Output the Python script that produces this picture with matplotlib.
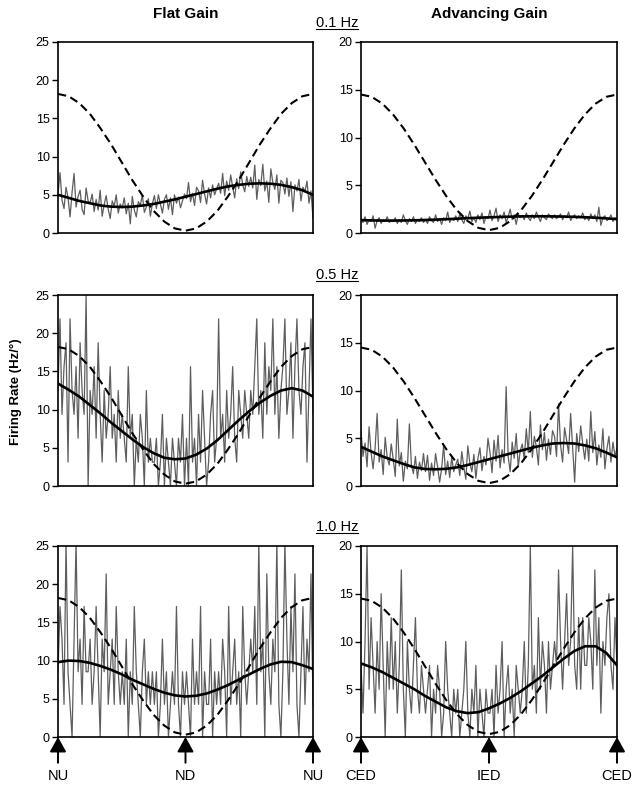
import numpy as np
import matplotlib
matplotlib.use("Agg")
import matplotlib.pyplot as plt
from matplotlib.lines import Line2D

plt.rcParams['font.family'] = ['Liberation Sans', 'DejaVu Sans']

# ---------------- data ----------------
col_titles = ["Flat Gain", "Advancing Gain"]
row_titles = ["0.1 Hz", "0.5 Hz", "1.0 Hz"]
ylims = [25, 20]
flat_marks = ["NU", "ND", "NU"]
adv_marks = ["CED", "IED", "CED"]

# stimulus (dashed), 25 samples over one cycle
stim_flat = [18.2, 17.9, 17.0, 15.6, 13.7, 11.6, 9.25, 6.9, 4.8, 2.9, 1.5, 0.6, 0.3,
             0.6, 1.5, 2.9, 4.8, 6.9, 9.25, 11.6, 13.7, 15.6, 17.0, 17.9, 18.2]
stim_adv = [14.5, 14.26, 13.55, 12.42, 10.95, 9.24, 7.4, 5.56, 3.85, 2.38, 1.25, 0.54, 0.3,
            0.54, 1.25, 2.38, 3.85, 5.56, 7.4, 9.24, 10.95, 12.42, 13.55, 14.26, 14.5]

# fitted curves (solid), 25 samples
fit_flat_01 = [5.0, 4.6, 4.2, 3.9, 3.6, 3.45, 3.4, 3.45, 3.6, 3.8, 4.1, 4.4, 4.75,
               5.1, 5.45, 5.8, 6.1, 6.3, 6.45, 6.5, 6.45, 6.3, 6.0, 5.6, 5.0]
fit_adv_01 = [1.35, 1.32, 1.3, 1.3, 1.31, 1.33, 1.36, 1.4, 1.45, 1.5, 1.55, 1.6, 1.64,
              1.68, 1.71, 1.74, 1.75, 1.75, 1.74, 1.72, 1.69, 1.65, 1.6, 1.53, 1.45]
fit_flat_05 = [13.4, 12.6, 11.7, 10.6, 9.5, 8.3, 7.2, 6.1, 5.1, 4.3, 3.7, 3.5, 3.6,
               4.1, 4.9, 6.0, 7.3, 8.6, 9.8, 10.9, 11.8, 12.5, 12.8, 12.5, 11.7]
fit_adv_05 = [4.1, 3.6, 3.1, 2.7, 2.3, 1.95, 1.78, 1.75, 1.8, 1.95, 2.2, 2.5, 2.8,
              3.1, 3.4, 3.7, 4.0, 4.25, 4.45, 4.5, 4.45, 4.25, 3.95, 3.5, 3.0]
fit_flat_10 = [9.8, 10.0, 9.95, 9.7, 9.3, 8.8, 8.2, 7.5, 6.9, 6.3, 5.8, 5.45, 5.3,
               5.4, 5.7, 6.2, 6.8, 7.5, 8.2, 8.9, 9.5, 9.85, 9.8, 9.4, 8.9]
fit_adv_10 = [7.7, 7.3, 6.8, 6.2, 5.6, 5.0, 4.3, 3.7, 3.1, 2.7, 2.5, 2.6, 3.0,
              3.5, 4.1, 4.8, 5.6, 6.4, 7.3, 8.2, 9.0, 9.5, 9.5, 8.8, 7.5]

# firing rate traces (gray), 128 bins each
rate_flat_01 = [5.1, 7.9, 4.3, 3.2, 6.0, 4.6, 2.1, 5.3, 7.8, 3.4, 4.8, 5.6, 3.1, 2.4, 5.9, 4.2,
                3.9, 5.1, 2.8, 4.4, 3.0, 5.6, 2.2, 3.7, 4.9, 3.1, 1.9, 4.2, 3.5, 5.0, 2.6, 3.8,
                3.3, 4.6, 2.5, 3.9, 1.2, 4.8, 3.0, 2.1, 4.1, 3.6, 5.0, 2.7, 3.4, 4.5, 2.2, 3.8,
                4.9, 3.2, 5.0, 3.8, 2.6, 4.4, 5.0, 3.1, 4.6, 2.4, 5.0, 3.9, 4.7, 3.3, 4.2, 5.1,
                4.5, 6.6, 4.1, 5.2, 3.6, 6.0, 5.5, 4.0, 6.9, 5.1, 3.8, 5.9, 4.6, 6.3, 5.0, 5.8,
                6.5, 5.2, 7.8, 4.9, 6.8, 5.6, 7.6, 6.0, 4.6, 7.1, 5.8, 8.0, 6.3, 5.4, 7.4, 6.1,
                7.3, 5.9, 8.9, 4.4, 7.0, 6.2, 9.0, 5.5, 6.8, 4.0, 8.4, 6.6, 5.7, 7.6, 3.9, 6.9,
                6.6, 5.1, 7.2, 4.8, 6.7, 2.8, 6.3, 5.5, 7.0, 4.2, 6.0, 5.4, 6.8, 3.9, 5.5, 1.9]
rate_adv_01 = [1.5, 1.1, 1.7, 0.9, 1.4, 1.2, 1.8, 0.5, 1.3, 1.6, 1.0, 1.4, 1.2, 1.7, 1.1, 1.3,
               1.2, 1.6, 1.0, 1.4, 1.1, 1.9, 1.3, 0.9, 1.5, 1.2, 1.7, 1.0, 1.4, 1.2, 1.6, 1.1,
               1.4, 1.0, 1.7, 1.3, 1.1, 1.9, 1.2, 1.5, 0.9, 1.6, 1.3, 2.2, 1.1, 1.5, 1.3, 1.8,
               1.2, 2.0, 1.4, 1.0, 1.8, 1.5, 2.3, 1.2, 1.6, 1.1, 1.9, 1.4, 2.1, 1.0, 1.7, 1.5,
               2.4, 1.3, 1.8, 2.6, 1.2, 1.9, 1.5, 2.2, 1.1, 1.7, 2.5, 1.4, 1.9, 0.9, 2.0, 1.6,
               1.8, 1.4, 2.1, 1.6, 1.3, 1.9, 1.5, 2.2, 1.7, 1.2, 1.9, 1.6, 1.4, 2.0, 1.7, 1.5,
               1.9, 1.5, 1.7, 2.0, 1.4, 1.8, 1.6, 2.2, 1.3, 1.7, 1.9, 1.5, 1.8, 1.6, 2.1, 1.4,
               1.7, 1.3, 2.0, 1.5, 1.9, 1.2, 2.7, 0.8, 1.6, 1.8, 1.3, 1.5, 1.9, 1.2, 1.6, 1.4]
# spike counts per bin; rate = count * bin quantum (Hz)
quantum_flat_05 = 3.125
count_flat_05 = [4, 7, 3, 5, 6, 1, 7, 4, 3, 5, 2, 6, 4, 3, 8, 0,
                 4, 3, 5, 2, 6, 3, 1, 4, 2, 3, 5, 2, 3, 1, 4, 2,
                 3, 2, 1, 5, 2, 3, 0, 2, 1, 3, 2, 0, 4, 1, 2, 1,
                 1, 2, 0, 1, 3, 0, 2, 1, 0, 2, 1, 0, 2, 1, 3, 0,
                 2, 0, 5, 1, 2, 0, 3, 1, 4, 2, 0, 1, 3, 4, 1, 2,
                 7, 2, 3, 1, 4, 2, 3, 5, 2, 1, 4, 3, 2, 4, 3, 2,
                 4, 3, 5, 7, 3, 4, 2, 6, 3, 5, 4, 7, 3, 5, 2, 4,
                 5, 7, 3, 4, 6, 2, 5, 7, 4, 3, 5, 6, 1, 4, 7, 3]
rate_adv_05 = [5.8, 3.1, 4.5, 2.0, 6.2, 3.5, 1.8, 4.0, 7.6, 2.5, 3.8, 1.2, 5.1, 3.0, 2.2, 4.4,
               2.8, 1.0, 7.0, 2.1, 3.5, 0.5, 2.6, 1.8, 6.5, 2.2, 1.3, 3.1, 0.8, 2.5, 1.6, 3.4,
               1.5, 3.2, 0.6, 2.4, 1.1, 3.4, 2.0, 0.4, 1.8, 4.3, 1.2, 2.6, 0.9, 3.0, 1.5, 2.2,
               2.8, 1.1, 3.6, 2.0, 0.7, 4.2, 2.4, 1.5, 3.3, 0.8, 2.9, 4.0, 1.6, 3.1, 2.2, 5.0,
               3.5, 1.4, 4.8, 2.6, 5.3, 1.9, 3.8, 2.4, 10.4, 3.1, 1.5, 4.6, 2.9, 5.5, 2.0, 3.7,
               4.4, 2.8, 6.0, 3.5, 7.8, 3.0, 5.2, 4.1, 2.2, 6.4, 3.8, 5.6, 2.7, 4.9, 3.3, 5.8,
               5.2, 3.1, 8.6, 4.3, 2.5, 6.1, 4.8, 3.4, 7.6, 4.0, 0.4, 5.5, 3.6, 6.3, 4.4, 2.8,
               4.9, 2.6, 7.8, 3.5, 5.7, 2.2, 4.3, 3.0, 6.0, 1.8, 3.9, 5.2, 2.5, 4.6, 3.1, 4.0]
quantum_flat_10 = 4.27
count_flat_10 = [2, 4, 3, 1, 6, 2, 1, 0, 3, 6, 2, 3, 1, 4, 2, 2,
                 3, 1, 2, 4, 2, 0, 3, 2, 5, 1, 2, 3, 1, 4, 2, 1,
                 2, 1, 3, 0, 2, 1, 4, 2, 1, 0, 2, 3, 1, 2, 1, 2,
                 1, 2, 0, 1, 3, 1, 2, 0, 1, 2, 1, 4, 1, 0, 2, 1,
                 2, 1, 0, 3, 1, 2, 1, 4, 0, 2, 1, 1, 3, 0, 2, 1,
                 2, 1, 3, 2, 0, 4, 1, 2, 3, 1, 2, 0, 4, 2, 1, 2,
                 3, 2, 4, 1, 6, 2, 3, 0, 5, 2, 1, 3, 2, 6, 1, 0,
                 2, 6, 3, 1, 4, 2, 5, 1, 0, 2, 4, 1, 3, 2, 5, 1]
quantum_adv_10 = 2.5
count_adv_10 = [3, 1, 4, 8, 2, 5, 3, 1, 4, 2, 6, 3, 0, 4, 2, 5,
                2, 4, 1, 3, 7, 2, 0, 4, 2, 1, 3, 5, 2, 1, 3, 2,
                1, 2, 3, 0, 2, 1, 3, 2, 0, 1, 4, 2, 1, 0, 2, 1,
                2, 0, 1, 2, 4, 1, 0, 2, 1, 3, 0, 2, 1, 0, 2, 1,
                1, 2, 0, 3, 1, 2, 4, 0, 2, 3, 1, 2, 0, 3, 2, 1,
                2, 4, 1, 3, 8, 2, 3, 1, 5, 2, 4, 3, 1, 4, 2, 3,
                4, 3, 7, 4, 2, 4, 6, 3, 4, 8, 3, 2, 5, 2, 5, 3,
                3, 5, 4, 2, 7, 3, 5, 1, 4, 3, 5, 6, 3, 2, 5, 3]

rates = [[rate_flat_01, rate_adv_01],
         [list(np.array(count_flat_05) * quantum_flat_05), rate_adv_05],
         [list(np.array(count_flat_10) * quantum_flat_10),
          list(np.array(count_adv_10) * quantum_adv_10)]]
fits = [[fit_flat_01, fit_adv_01],
        [fit_flat_05, fit_adv_05],
        [fit_flat_10, fit_adv_10]]
stims = [stim_flat, stim_adv]

# ---------------- figure ----------------
fig = plt.figure(figsize=(6.39, 7.89), dpi=100)

col_left = [58 / 639, 361 / 639]
col_width = [255 / 639, 256 / 639]
row_bottom = [1 - 233 / 789, 1 - 486 / 789, 1 - 737 / 789]
row_height = 191 / 789

axes = []
for r in range(3):
    for c in range(2):
        ax = fig.add_axes([col_left[c], row_bottom[r], col_width[c], row_height])
        axes.append(ax)
        y = rates[r][c]
        x = np.linspace(0, 1, len(y))
        ax.plot(x, y, color='#5e5e5e', lw=0.9, zorder=1)
        xs = np.linspace(0, 1, len(stims[c]))
        ax.plot(xs, stims[c], color='black', lw=1.5, ls=(0, (4, 2.2)), zorder=3)
        xf = np.linspace(0, 1, len(fits[r][c]))
        ax.plot(xf, fits[r][c], color='black', lw=1.9, zorder=4)
        ax.set_xlim(0, 1)
        ax.set_ylim(0, ylims[c])
        ax.set_yticks(np.arange(0, ylims[c] + 1, 5))
        ax.set_xticks([])
        ax.tick_params(axis='y', direction='out', length=4, width=1, labelsize=9, pad=2)
        for s in ax.spines.values():
            s.set_linewidth(1.2)

        if r == 2:
            marks = flat_marks if c == 0 else adv_marks
            for xm, lab in zip([0, 0.5, 1], marks):
                ax.annotate('', xy=(xm, 0), xycoords='axes fraction',
                            xytext=(xm, -0.135), textcoords='axes fraction',
                            arrowprops=dict(arrowstyle='-|>,head_length=0.9,head_width=0.5',
                                            color='black', lw=1.4, shrinkA=0, shrinkB=0),
                            annotation_clip=False)
                ax.text(xm, -0.205, lab, transform=ax.transAxes, ha='center', va='center',
                        fontsize=10.5)

# column titles
for c in range(2):
    fig.text(col_left[c] + col_width[c] / 2, 1 - 14 / 789, col_titles[c],
             ha='center', va='center', fontsize=11, fontweight='bold')

# row titles (underlined)
row_y = [23, 275, 527]
fig.canvas.draw()
renderer = fig.canvas.get_renderer()
for yy, lab in zip(row_y, row_titles):
    t = fig.text(337 / 639, 1 - yy / 789, lab, ha='center', va='center', fontsize=10.5)
    bb = t.get_window_extent(renderer=renderer).transformed(fig.transFigure.inverted())
    fig.add_artist(Line2D([bb.x0, bb.x1], [bb.y0 + 0.001, bb.y0 + 0.001],
                          color='black', lw=0.8, transform=fig.transFigure))

fig.text(15.5 / 639, 1 - 392 / 789, "Firing Rate (Hz/°)", rotation=90,
         ha='center', va='center', fontsize=9.5, fontweight='bold')

fig.savefig("out.png", dpi=100)
